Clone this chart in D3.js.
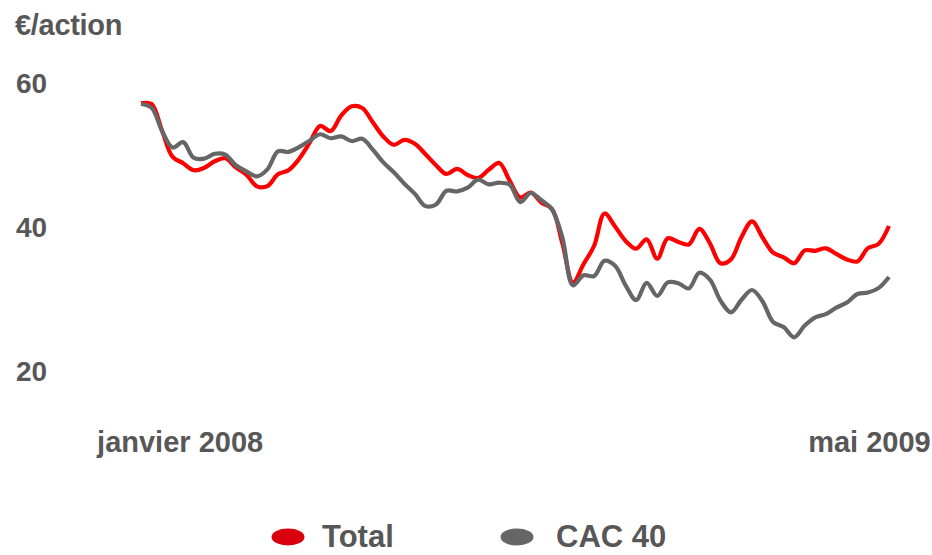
<!DOCTYPE html>
<html>
<head>
<meta charset="utf-8">
<script src="https://cdnjs.cloudflare.com/ajax/libs/d3/7.8.5/d3.min.js"></script>
<style>
body {margin: 0; background: #fff;}
svg text {font-family: "Liberation Sans", Arial, sans-serif; font-weight: bold; fill: #575757;}
</style>
</head>
<body>
<svg id="chart" width="932" height="555"></svg>
<script>
// weekly closes, jan 2008 -> may 2009
var startDate = new Date(2008, 0, 2);
var totalValues = [57.18, 57.08, 53.37, 49.74, 48.86, 47.89, 48.22, 49.13, 49.54, 48.28,
  47.28, 45.65, 45.68, 47.33, 47.89, 49.44, 51.67, 54.03, 53.33, 55.47,
  56.76, 56.53, 54.56, 52.57, 51.42, 52.1, 51.56, 50.11, 48.58, 47.36,
  48.06, 47.22, 46.81, 47.94, 48.89, 46.42, 44.1, 44.79, 43.4, 42.53,
  37.71, 32.3, 34.83, 37.36, 41.88, 40.06, 38.07, 36.99, 38.28, 35.61,
  38.43, 37.93, 37.57, 39.74, 37.74, 34.97, 35.51, 38.61, 40.78, 38.54,
  36.43, 35.79, 34.97, 36.75, 36.69, 37.04, 36.26, 35.5, 35.22, 37.06, 37.64, 40.14];
// CAC 40 rebased on Total
var cacValues = [57.08, 56.56, 53.35, 51.04, 51.79, 49.61, 49.5, 50.17, 50.06, 48.58,
  47.74, 47.04, 48.01, 50.51, 50.43, 51.08, 51.99, 52.88, 52.33, 52.58,
  51.94, 52.25, 50.75, 48.97, 47.6, 46.0, 44.6, 42.9, 43.13, 45.04,
  44.94, 45.46, 46.57, 45.93, 46.15, 45.88, 43.46, 44.72, 43.72, 42.47,
  38.53, 31.9, 33.29, 33.18, 35.31, 34.61, 31.9, 29.86, 32.25, 30.43,
  32.31, 32.19, 31.47, 33.65, 32.69, 29.79, 28.15, 29.89, 31.25, 29.65,
  26.81, 26.1, 24.67, 26.31, 27.46, 27.89, 28.79, 29.51, 30.69, 30.9, 31.51, 33.06];
var yTicks = [20, 40, 60];
var xLabels = ["janvier 2008", "mai 2009"];
var xLabelDates = [new Date(2008, 0, 28), new Date(2009, 3, 30)];
var seriesNames = ["Total", "CAC 40"];

var dates = totalValues.map(function(d, i) { return d3.timeWeek.offset(startDate, i); });

var svg = d3.select("#chart");

var x = d3.scaleTime()
  .domain([dates[0], dates[dates.length - 1]])
  .range([141, 889]);

var y = d3.scaleLinear()
  .domain([20, 60])
  .range([371, 83]);

var line = d3.line()
  .x(function(d, i) { return x(dates[i]); })
  .y(function(d) { return y(d); })
  .curve(d3.curveCatmullRom.alpha(0.5));

// unit label
svg.append("text")
  .attr("x", 15)
  .attr("y", 35)
  .style("font-size", "29px")
  .style("letter-spacing", "-0.3px")
  .text("€/action");

// y axis labels, no line
svg.selectAll("text.ytick")
  .data(yTicks)
  .enter()
  .append("text")
    .attr("class", "ytick")
    .attr("x", 16)
    .attr("y", function(d) { return y(d); })
    .attr("dy", "0.36em")
    .style("font-size", "28px")
    .text(function(d) { return d; });

svg.selectAll("text.xtick")
  .data(xLabels)
  .enter()
  .append("text")
    .attr("class", "xtick")
    .attr("x", function(d, i) { return x(xLabelDates[i]); })
    .attr("y", 452)
    .attr("text-anchor", "middle")
    .style("font-size", "29px")
    .text(function(d) { return d; });

svg.append("path")
  .datum(totalValues)
  .attr("d", line)
  .attr("fill", "none")
  .attr("stroke", "#ff0000")
  .attr("stroke-width", 4.2)
  .attr("stroke-linejoin", "round");

svg.append("path")
  .datum(cacValues)
  .attr("d", line)
  .attr("fill", "none")
  .attr("stroke", "#666666")
  .attr("stroke-width", 4.2)
  .attr("stroke-linejoin", "round");

// legend
var legendColors = ["#d9000d", "#666666"];
var legendX = [288, 517];
var legendTextX = [322, 556];
var legend = svg.selectAll("g.legend")
  .data(seriesNames)
  .enter()
  .append("g")
    .attr("class", "legend");

legend.append("ellipse")
  .attr("cx", function(d, i) { return legendX[i]; })
  .attr("cy", 537)
  .attr("rx", 16.5)
  .attr("ry", 8.5)
  .attr("fill", function(d, i) { return legendColors[i]; });

legend.append("text")
  .attr("x", function(d, i) { return legendTextX[i]; })
  .attr("y", 547)
  .style("font-size", "31px")
  .text(function(d) { return d; });
</script>
</body>
</html>
